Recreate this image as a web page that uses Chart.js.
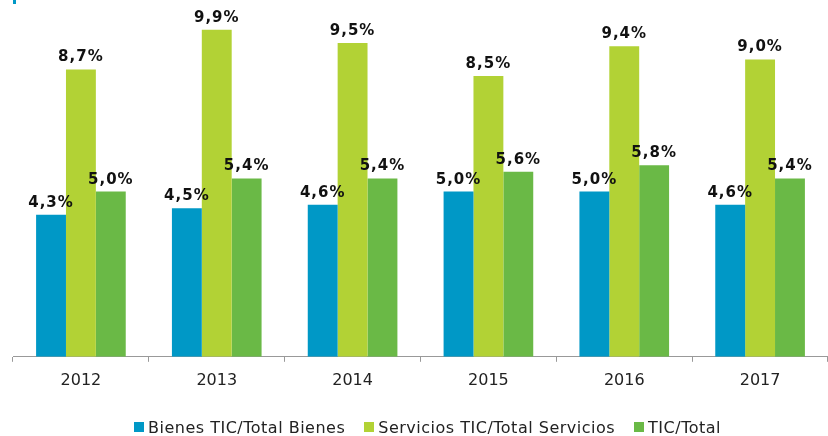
<!DOCTYPE html>
<html>
<head>
<meta charset="utf-8">
<script src="https://cdn.jsdelivr.net/npm/chart.js"></script>
<style>
    body { margin: 0; background: #fff; }
    #wrap { position: relative; width: 828px; height: 436px; }
    #mark { position: absolute; left: 13px; top: 0; width: 3px; height: 4px; background: #0098c6; }
    #legend { position: absolute; left: 134px; top: 417px; height: 20px; display: flex; align-items: center;
        font-family: "DejaVu Sans", Verdana, sans-serif; font-size: 16px; letter-spacing: 0.5px; color: #222; white-space: nowrap; }
    #legend .item { display: flex; align-items: center; margin-right: 19px; }
    #legend .box { width: 10px; height: 10px; margin-right: 4px; }
</style>
</head>
<body>
<div id="wrap">
    <canvas id="barChart" width="828" height="436"></canvas>
    <div id="mark"></div>
    <div id="legend"></div>
</div>

<script>
    const years = ['2012', '2013', '2014', '2015', '2016', '2017'];
    const bienes = [4.3, 4.5, 4.6, 5.0, 5.0, 4.6];
    const servicios = [8.7, 9.9, 9.5, 8.5, 9.4, 9.0];
    const total = [5.0, 5.4, 5.4, 5.6, 5.8, 5.4];
    const seriesNames = ['Bienes TIC/Total Bienes', 'Servicios TIC/Total Servicios', 'TIC/Total'];
    const colors = ['#0098c6', '#b2d235', '#6ab946'];

    // etiquetas de valor encima de cada barra
    const valueLabels = {
        id: 'valueLabels',
        afterDatasetsDraw(chart) {
            const ctx = chart.ctx;
            ctx.save();
            ctx.font = 'bold 15px "DejaVu Sans", Verdana, sans-serif';
            ctx.letterSpacing = '1px';
            ctx.fillStyle = '#111';
            ctx.textAlign = 'center';
            ctx.textBaseline = 'alphabetic';
            chart.data.datasets.forEach((ds, i) => {
                chart.getDatasetMeta(i).data.forEach((bar, j) => {
                    const txt = ds.data[j].toFixed(1).replace('.', ',') + '%';
                    ctx.fillText(txt, bar.x, bar.y - 8);
                });
            });
            ctx.restore();
        }
    };

    const ctx = document.getElementById('barChart').getContext('2d');
    new Chart(ctx, {
        type: 'bar',
        data: {
            labels: years,
            datasets: [bienes, servicios, total].map((d, i) => ({
                label: seriesNames[i],
                data: d,
                backgroundColor: colors[i],
                borderWidth: 0,
                categoryPercentage: 0.66,
                barPercentage: 1.0
            }))
        },
        options: {
            responsive: false,
            animation: false,
            layout: { padding: { left: 13, right: 0, top: 0, bottom: 37 } },
            plugins: {
                legend: { display: false },
                tooltip: { enabled: false }
            },
            scales: {
                x: {
                    border: { color: '#999', width: 1 },
                    grid: { drawOnChartArea: false, drawTicks: true, tickLength: 5, color: '#999' },
                    ticks: {
                        color: '#222',
                        padding: 9,
                        font: { family: '"DejaVu Sans", Verdana, sans-serif', size: 16 }
                    }
                },
                y: {
                    display: false,
                    min: 0,
                    max: 10.8
                }
            }
        },
        plugins: [valueLabels]
    });

    const legend = document.getElementById('legend');
    seriesNames.forEach((name, i) => {
        const item = document.createElement('div');
        item.className = 'item';
        item.innerHTML = '<span class="box" style="background:' + colors[i] + '"></span><span>' + name + '</span>';
        legend.appendChild(item);
    });
</script>
</body>
</html>
